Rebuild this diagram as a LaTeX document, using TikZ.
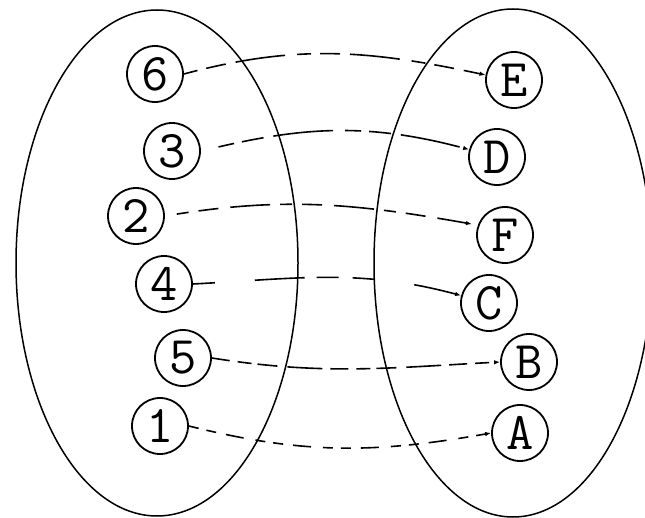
\documentclass[tikz,border=0pt]{standalone}
\usepackage{fontspec}
\usetikzlibrary{arrows.meta}
\begin{document}
\begin{tikzpicture}[x=1pt,y=1pt,
  setshape/.style={draw=black,line width=1.5pt},
  elem/.style={circle,draw=black,line width=1.8pt,minimum size=56pt,inner sep=0pt,
    font=\ttfamily\fontsize{53}{53}\selectfont},
  link/.style={draw=black,line width=1.6pt,-{Latex[length=6pt,width=4.5pt]}}]
\useasboundingbox (0,0) rectangle (645,-518);
\draw[setshape] (157,-263) ellipse [x radius=141,y radius=253];
\draw[setshape] (513,-263) ellipse [x radius=139,y radius=254];
% left set
\node[elem] (n6) at (155,-74) {6};
\node[elem] (n3) at (172,-151) {3};
\node[elem] (n2) at (136,-216) {2};
\node[elem] (n4) at (164,-284) {4};
\node[elem] (n5) at (183,-358) {5};
\node[elem] (n1) at (160,-426) {1};
% right set
\node[elem] (nE) at (514,-80) {E};
\node[elem] (nD) at (497,-157) {D};
\node[elem] (nF) at (505,-235) {F};
\node[elem] (nC) at (489,-303) {C};
\node[elem] (nB) at (529,-362) {B};
\node[elem] (nA) at (520,-433) {A};
% connectors
\draw[link,dash pattern=on 14pt off 9pt on 20pt off 10pt on 50pt off 12pt] (n6.east) to[out=15,in=168] (nE.170);
\draw[link,dash pattern=on 16pt off 8pt on 22pt off 10pt on 60pt off 12pt,shorten <=18pt] (n3.east) to[out=13,in=165] (nD.165);
\draw[link,dash pattern=on 12pt off 10pt on 20pt off 12pt on 40pt off 10pt,shorten <=12pt,shorten >=6pt] (n2.east) to[out=9,in=170] (nF.160);
\draw[link,dash pattern=on 22pt off 40pt on 50pt off 12pt on 22pt off 14pt] (n4.east) to[out=3,in=165] (nC.165);
\draw[link,dash pattern=on 18pt off 8pt on 14pt off 6pt on 20pt off 10pt on 35pt off 8pt] (n5.east) to[out=-9,in=183] (nB.west);
\draw[link,dash pattern=on 10pt off 8pt on 10pt off 10pt on 18pt off 12pt] (n1.east) to[out=-14,in=190] (nA.west);
\end{tikzpicture}
\end{document}
